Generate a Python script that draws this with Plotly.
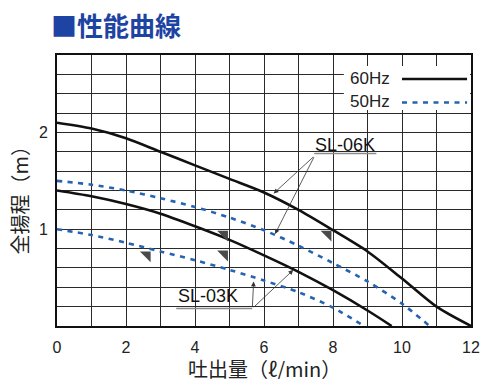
import plotly.graph_objects as go

# ---- data ----
flow_06_60 = [0, 1, 2, 3, 4, 5, 6, 7, 8, 9, 10, 11, 12]
head_06_60 = [2.10, 2.04, 1.94, 1.80, 1.66, 1.52, 1.38, 1.20, 0.99, 0.77, 0.49, 0.20, 0.0]

flow_06_50 = [0, 1, 2, 3, 4, 5, 6, 7, 8, 9, 10, 10.8]
head_06_50 = [1.50, 1.46, 1.40, 1.32, 1.23, 1.12, 0.99, 0.83, 0.65, 0.46, 0.23, 0.0]

flow_03_60 = [0, 1, 2, 3, 4, 5, 6, 7, 8, 9, 9.7]
head_03_60 = [1.40, 1.34, 1.26, 1.16, 1.03, 0.89, 0.73, 0.56, 0.37, 0.16, 0.0]

flow_03_50 = [0, 1, 2, 3, 4, 5, 6, 7, 8, 8.9]
head_03_50 = [1.00, 0.94, 0.86, 0.77, 0.68, 0.58, 0.47, 0.35, 0.19, 0.0]

mark_x = [2.61, 4.85, 4.85, 7.85]
mark_y = [0.732, 0.742, 0.948, 0.948]

x_ticks = [0, 2, 4, 6, 8, 10, 12]
y_ticks = [1, 2]

# ---- layout helpers (window pixel -> paper); page body has an 8px margin ----
OFF = 8
W, H = 500 - 2 * OFF, 387 - 2 * OFF
L, R, T, B = 57, 477, 55, 326
def px(xp):
    return (xp - L) / (R - L)
def py(yp):
    return (B - yp) / (B - T)

BLACK = "#111111"
BLUE = "#2563b3"
LAT = "Liberation Sans, Arial, sans-serif"
CJK = "Noto Sans CJK JP, sans-serif"

fig = go.Figure()
solid = dict(color=BLACK, width=2.6, shape="spline", smoothing=0.8)
dashed = dict(color=BLUE, width=2.6, dash="5px,5.5px", shape="spline", smoothing=0.8)

fig.add_trace(go.Scatter(x=flow_06_60, y=head_06_60, mode="lines", line=solid, showlegend=False))
fig.add_trace(go.Scatter(x=flow_06_50, y=head_06_50, mode="lines", line=dashed, showlegend=False))
fig.add_trace(go.Scatter(x=flow_03_60, y=head_03_60, mode="lines", line=solid, showlegend=False))
fig.add_trace(go.Scatter(x=flow_03_50, y=head_03_50, mode="lines", line=dashed, showlegend=False))
fig.add_trace(go.Scatter(x=mark_x, y=mark_y, mode="markers", showlegend=False,
                         marker=dict(symbol="triangle-ne", size=12, color="#4a4a4a",
                                     line=dict(width=0))))

grid = "#2a2a2a"
fig.update_xaxes(range=[0, 12], tickvals=x_ticks, showgrid=True, gridcolor=grid, gridwidth=1,
                 minor=dict(dtick=1, tick0=0, showgrid=True, gridcolor=grid, gridwidth=1),
                 showline=True, linecolor=BLACK, linewidth=1.6, mirror=True,
                 ticks="outside", ticklen=6, tickcolor="rgba(0,0,0,0)",
                 tickfont=dict(family=LAT, size=16, color="#222"), zeroline=False, fixedrange=True)
fig.update_yaxes(range=[0, 2.8], tickvals=y_ticks, showgrid=True, gridcolor=grid, gridwidth=1,
                 minor=dict(dtick=0.2, tick0=0, showgrid=True, gridcolor=grid, gridwidth=1),
                 showline=True, linecolor=BLACK, linewidth=1.6, mirror=True,
                 ticks="outside", ticklen=4, tickcolor="rgba(0,0,0,0)",
                 tickfont=dict(family=LAT, size=16, color="#222"), zeroline=False, fixedrange=True)

shapes = []
# legend background box
shapes.append(dict(type="rect", xref="paper", yref="paper", x0=px(348), x1=px(476), y0=py(110), y1=py(66),
                   fillcolor="white", line=dict(width=0), layer="above"))
shapes.append(dict(type="line", xref="paper", yref="paper", x0=px(407), x1=px(473), y0=py(79), y1=py(79),
                   line=dict(color=BLACK, width=2.6), layer="above"))
shapes.append(dict(type="line", xref="paper", yref="paper", x0=px(407), x1=px(473), y0=py(102.5), y1=py(102.5),
                   line=dict(color=BLUE, width=2.6, dash="5px,5.5px"), layer="above"))
# underlines of labels
shapes.append(dict(type="line", xref="paper", yref="paper", x0=px(318), x1=px(381), y0=py(153.5), y1=py(153.5),
                   line=dict(color="#8a8a8a", width=1.3), layer="above"))
shapes.append(dict(type="line", xref="paper", yref="paper", x0=px(178), x1=px(255), y0=py(308.5), y1=py(308.5),
                   line=dict(color="#8a8a8a", width=1.3), layer="above"))

ann = []
# title
ann.append(dict(xref="paper", yref="paper", x=px(49), y=py(24), xanchor="left", yanchor="middle",
                text="<b>■性能曲線</b>", showarrow=False,
                font=dict(family=CJK, size=26, color="#1d43a3")))
# axis titles
ann.append(dict(xref="paper", yref="paper", x=px(267), y=py(368), xanchor="center", yanchor="middle",
                text="吐出量（ℓ/min）", showarrow=False, font=dict(family=CJK, size=20, color="#222")))
ann.append(dict(xref="paper", yref="paper", x=px(18), y=py(195), xanchor="center", yanchor="middle",
                text="全揚程（m）", textangle=-90, showarrow=False, font=dict(family=CJK, size=20, color="#222")))
# legend text
ann.append(dict(xref="paper", yref="paper", x=px(397), y=py(78.5), xanchor="right", yanchor="middle",
                text="60Hz", showarrow=False, font=dict(family=LAT, size=17, color="#222")))
ann.append(dict(xref="paper", yref="paper", x=px(397), y=py(101.5), xanchor="right", yanchor="middle",
                text="50Hz", showarrow=False, font=dict(family=LAT, size=17, color="#222")))
# model labels
ann.append(dict(x=8.34, y=1.871, xanchor="center", yanchor="middle", text="SL-06K", showarrow=False,
                font=dict(family=LAT, size=18, color="#111")))
ann.append(dict(x=4.37, y=0.314, xanchor="center", yanchor="middle", text="SL-03K", showarrow=False,
                font=dict(family=LAT, size=18, color="#111")))
# arrows
arrow = dict(showarrow=True, text="", axref="x", ayref="y", arrowhead=2, arrowsize=1.2,
             arrowwidth=0.8, arrowcolor="#333")
for hx, hy in [(6.28, 1.37), (6.32, 0.95)]:
    ann.append(dict(x=hx, y=hy, ax=7.47, ay=1.76, **arrow))
for hx, hy in [(5.70, 0.46), (6.85, 0.58)]:
    ann.append(dict(x=hx, y=hy, ax=5.66, ay=0.18, **arrow))

fig.update_layout(width=W, height=H,
                  margin=dict(l=L - OFF, r=W - (R - OFF), t=T - OFF, b=H - (B - OFF)),
                  paper_bgcolor="white", plot_bgcolor="white",
                  shapes=shapes, annotations=ann, showlegend=False)

fig.write_html("out.html")
